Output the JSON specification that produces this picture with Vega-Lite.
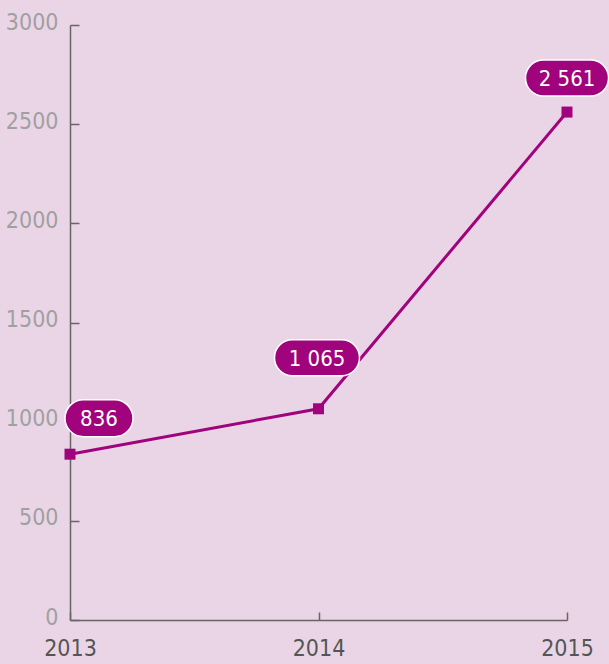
{
  "$schema": "https://vega.github.io/schema/vega-lite/v6.json",
  "width": 497,
  "height": 595,
  "autosize": {"type": "none"},
  "padding": {"left": 70, "top": 25, "right": 42, "bottom": 44},
  "background": "#ead5e7",
  "config": {
    "view": {"stroke": null},
    "font": "DejaVu Sans Condensed, sans-serif",
    "locale": {
      "number": {"decimal": ",", "thousands": " ", "grouping": [3], "currency": ["", ""]}
    }
  },
  "data": {
    "values": [
      {"year": "2013", "value": 836},
      {"year": "2014", "value": 1065},
      {"year": "2015", "value": 2561}
    ]
  },
  "encoding": {
    "x": {
      "field": "year",
      "type": "ordinal",
      "scale": {"type": "point", "padding": 0},
      "axis": {
        "title": null,
        "labelAngle": 0,
        "grid": false,
        "domainColor": "#666666",
        "domainWidth": 1.5,
        "tickColor": "#666666",
        "tickWidth": 1.5,
        "tickSize": -8,
        "labelColor": "#555555",
        "labelFont": "DejaVu Sans Condensed, sans-serif",
        "labelFontSize": 23,
        "labelPadding": 25,
        "labelBaseline": "top"
      }
    },
    "y": {
      "field": "value",
      "type": "quantitative",
      "scale": {"domain": [0, 3000], "nice": false},
      "axis": {
        "title": null,
        "values": [0, 500, 1000, 1500, 2000, 2500, 3000],
        "format": "d",
        "grid": false,
        "domainColor": "#666666",
        "domainWidth": 1.5,
        "tickColor": "#666666",
        "tickWidth": 1.5,
        "tickSize": -9,
        "labelColor": "#a0a0a0",
        "labelFont": "DejaVu Sans Condensed, sans-serif",
        "labelFontSize": 23,
        "labelPadding": 21,
        "labelBaseline": "middle",
        "labelOffset": -3
      }
    }
  },
  "layer": [
    {
      "mark": {"type": "line", "color": "#a0037c", "strokeWidth": 3}
    },
    {
      "mark": {"type": "point", "shape": "square", "filled": true, "opacity": 1, "color": "#a0037c", "size": 121}
    },
    {
      "transform": [{"filter": "datum.year == '2013'"}],
      "layer": [
        {
          "mark": {
            "type": "point",
            "shape": "M-0.456,-0.544L0.456,-0.544A0.544,0.544,0,0,1,0.456,0.544L-0.456,0.544A0.544,0.544,0,0,1,-0.456,-0.544Z",
            "size": 4624,
            "filled": true,
            "opacity": 1,
            "fill": "#a0037c",
            "stroke": "#ffffff",
            "strokeWidth": 1.5,
            "xOffset": 29,
            "yOffset": -36
          }
        },
        {
          "mark": {"type": "text", "color": "#ffffff", "fontSize": 22, "baseline": "middle", "align": "center", "xOffset": 29, "yOffset": -35},
          "encoding": {"text": {"field": "value", "type": "quantitative", "format": ",d"}}
        }
      ]
    },
    {
      "transform": [{"filter": "datum.year == '2014'"}],
      "layer": [
        {
          "mark": {
            "type": "point",
            "shape": "M-0.5765,-0.4235L0.5765,-0.4235A0.4235,0.4235,0,0,1,0.5765,0.4235L-0.5765,0.4235A0.4235,0.4235,0,0,1,-0.5765,-0.4235Z",
            "size": 7225,
            "filled": true,
            "opacity": 1,
            "fill": "#a0037c",
            "stroke": "#ffffff",
            "strokeWidth": 1.5,
            "xOffset": -1.5,
            "yOffset": -51
          }
        },
        {
          "mark": {"type": "text", "color": "#ffffff", "fontSize": 22, "baseline": "middle", "align": "center", "xOffset": -1.5, "yOffset": -50},
          "encoding": {"text": {"field": "value", "type": "quantitative", "format": ",d"}}
        }
      ]
    },
    {
      "transform": [{"filter": "datum.year == '2015'"}],
      "layer": [
        {
          "mark": {
            "type": "point",
            "shape": "M-0.5663,-0.4337L0.5663,-0.4337A0.4337,0.4337,0,0,1,0.5663,0.4337L-0.5663,0.4337A0.4337,0.4337,0,0,1,-0.5663,-0.4337Z",
            "size": 6889,
            "filled": true,
            "opacity": 1,
            "fill": "#a0037c",
            "stroke": "#ffffff",
            "strokeWidth": 1.5,
            "xOffset": 0,
            "yOffset": -34
          }
        },
        {
          "mark": {"type": "text", "color": "#ffffff", "fontSize": 22, "baseline": "middle", "align": "center", "xOffset": 0, "yOffset": -33},
          "encoding": {"text": {"field": "value", "type": "quantitative", "format": ",d"}}
        }
      ]
    }
  ]
}
